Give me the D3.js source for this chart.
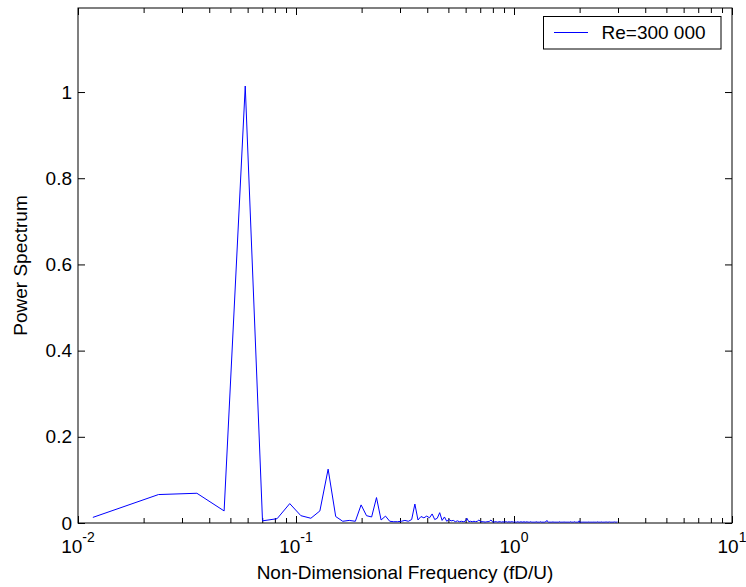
<!DOCTYPE html>
<html lang="en">

<head>
  <meta charset="utf-8">
  <title>powerSpectrum</title>
  <script src="https://d3js.org/d3.v7.min.js"></script>
  <style type="text/css">
    body {
      margin: 0;
      background: white;
    }

    svg text {
      font-family: "Liberation Sans", Arial, sans-serif;
      fill: black;
    }

    .axis path.domain {
      display: none;
    }

    .axis line {
      stroke: black;
      stroke-width: 1;
    }

    .tickLabel {
      font-size: 19px;
    }

    .axisTitle {
      font-size: 19px;
      text-anchor: middle;
    }
  </style>
</head>

<body>
  <script>

    //config settings
    const width = 746, height = 587;
    const plot = { left: 78, right: 732, top: 8, bottom: 523 };
    const majorTick = 7, minorTick = 5;

    //data: FFT bins, frequency of bin k is k * binWidth (fD/U)
    const binWidth = 0.0117;
    const seriesName = "Re=300 000";
    const power = [
      0.013, 0.066, 0.069, 0.028, 1.014, 0.005, 0.010, 0.045, 0.017, 0.011,
      0.028, 0.125, 0.015, 0.004, 0.006, 0.004, 0.042, 0.017, 0.014, 0.059,
      0.007, 0.016, 0.004, 0.003, 0.003, 0.004, 0.006, 0.004, 0.008, 0.044,
      0.007, 0.015, 0.012, 0.016, 0.012, 0.021, 0.008, 0.011, 0.024, 0.006,
      0.014, 0.004, 0.008, 0.005, 0.006, 0.003, 0.005, 0.003, 0.004, 0.003,
      0.004, 0.011, 0.003, 0.004, 0.003, 0.004, 0.003, 0.004, 0.007, 0.003,
      0.003, 0.003, 0.002, 0.003, 0.003, 0.004, 0.007, 0.003, 0.002, 0.003, 0.003, 0.002, 0.003, 0.003, 0.002,
      0.003, 0.002, 0.003, 0.003, 0.002, 0.003, 0.002, 0.003, 0.003, 0.002, 0.003, 0.002, 0.002, 0.003, 0.002,
      0.002, 0.003, 0.002, 0.002, 0.003, 0.002, 0.002, 0.003, 0.002, 0.002, 0.002, 0.003, 0.002, 0.002, 0.002,
      0.002, 0.002, 0.003, 0.002, 0.002, 0.002, 0.002, 0.003, 0.002, 0.002, 0.002, 0.002, 0.002, 0.003, 0.003,
      0.006, 0.003, 0.002, 0.002, 0.002, 0.002, 0.002, 0.002, 0.003, 0.002, 0.002, 0.002, 0.002, 0.002, 0.002,
      0.002, 0.002, 0.003, 0.002, 0.002, 0.002, 0.002, 0.002, 0.002, 0.003, 0.002, 0.002, 0.002, 0.002, 0.002,
      0.002, 0.002, 0.002, 0.002, 0.003, 0.002, 0.002, 0.002, 0.002, 0.002, 0.002, 0.003, 0.002, 0.002, 0.002,
      0.002, 0.002, 0.002, 0.002, 0.005, 0.002, 0.002, 0.002, 0.002, 0.002, 0.002, 0.002, 0.002, 0.003, 0.002,
      0.002, 0.002, 0.002, 0.002, 0.002, 0.002, 0.003, 0.002, 0.002, 0.002, 0.002, 0.002, 0.002, 0.002, 0.002,
      0.002, 0.003, 0.002, 0.002, 0.002, 0.002, 0.002, 0.002, 0.002, 0.002, 0.003, 0.002, 0.002, 0.002, 0.002,
      0.002, 0.002, 0.002, 0.002, 0.002, 0.003, 0.002, 0.002, 0.002, 0.002, 0.002, 0.002, 0.002, 0.002, 0.002,
      0.003, 0.002, 0.002, 0.002, 0.002, 0.002, 0.002, 0.002, 0.003, 0.002, 0.002, 0.002, 0.002, 0.002, 0.002,
      0.002, 0.002, 0.002, 0.002, 0.002, 0.002, 0.003, 0.002, 0.002, 0.002, 0.002, 0.002, 0.002, 0.002, 0.003
    ];

    //axes
    const xDomain = [0.01, 10];
    const yDomain = [0, 1.195];
    const xMajorExponents = [-2, -1, 0, 1];
    const yTickValues = [0, 0.2, 0.4, 0.6, 0.8, 1];
    const xTitle = "Non-Dimensional Frequency (fD/U)";
    const yTitle = "Power Spectrum";

    let svg, xScale, yScale;

    function createSvg() {
      svg = d3.select("body").append("svg")
        .attr("width", width).attr("height", height);
      svg.append("rect").attr("width", width).attr("height", height).attr("fill", "white");
    }

    function createScales() {
      xScale = d3.scaleLog().domain(xDomain).range([plot.left, plot.right]);
      yScale = d3.scaleLinear().domain(yDomain).range([plot.bottom, plot.top]);
    }

    function renderAxes() {
      let majors = xMajorExponents.map(e => Math.pow(10, e));
      let minors = xScale.ticks().filter(v => !majors.some(m => Math.abs(v / m - 1) < 1e-6));

      //bottom and top, ticks pointing inward
      [[d3.axisBottom, plot.bottom, -1], [d3.axisTop, plot.top, -1]].forEach(([axisFn, yPos]) => {
        svg.append("g").attr("class", "axis")
          .attr("transform", `translate(0,${yPos})`)
          .call(axisFn(xScale).tickValues(majors).tickSize(-majorTick).tickFormat(""));
        svg.append("g").attr("class", "axis")
          .attr("transform", `translate(0,${yPos})`)
          .call(axisFn(xScale).tickValues(minors).tickSize(-minorTick).tickFormat(""));
      });

      //left and right
      svg.append("g").attr("class", "axis")
        .attr("transform", `translate(${plot.left},0)`)
        .call(d3.axisLeft(yScale).tickValues(yTickValues).tickSize(-majorTick).tickFormat(""));
      svg.append("g").attr("class", "axis")
        .attr("transform", `translate(${plot.right},0)`)
        .call(d3.axisRight(yScale).tickValues(yTickValues).tickSize(-majorTick).tickFormat(""));

      //frame
      svg.append("rect")
        .attr("x", plot.left).attr("y", plot.top)
        .attr("width", plot.right - plot.left).attr("height", plot.bottom - plot.top)
        .attr("fill", "none").attr("stroke", "black").attr("stroke-width", 1);

      //y labels
      svg.selectAll("text.yLabel").data(yTickValues).enter().append("text")
        .attr("class", "yLabel tickLabel")
        .attr("x", plot.left - 6)
        .attr("y", d => yScale(d))
        .attr("dy", "0.35em")
        .attr("text-anchor", "end")
        .text(d => d3.format("")(d));

      //x labels 10^n
      let xl = svg.selectAll("text.xLabel").data(xMajorExponents).enter().append("text")
        .attr("class", "xLabel tickLabel")
        .attr("x", d => xScale(Math.pow(10, d)))
        .attr("y", 553)
        .attr("text-anchor", "middle");
      xl.append("tspan").text("10");
      xl.append("tspan").attr("dy", -11).style("font-size", "14px").text(d => String(d));

      //titles
      svg.append("text").attr("class", "axisTitle")
        .attr("x", (plot.left + plot.right) / 2).attr("y", 579)
        .text(xTitle);
      svg.append("text").attr("class", "axisTitle")
        .attr("transform", `translate(27,${(plot.top + plot.bottom) / 2}) rotate(-90)`)
        .text(yTitle);
    }

    function renderLine() {
      let line = d3.line()
        .x((d, i) => xScale((i + 1) * binWidth))
        .y(d => yScale(d));
      svg.append("path")
        .datum(power)
        .attr("d", line)
        .attr("fill", "none")
        .attr("stroke", "#0000ff")
        .attr("stroke-width", 1);
    }

    function renderLegend() {
      let g = svg.append("g").attr("id", "legend");
      g.append("rect")
        .attr("x", 543.5).attr("y", 16.5).attr("width", 177.5).attr("height", 32.5)
        .attr("fill", "white").attr("stroke", "black").attr("stroke-width", 1);
      g.append("line")
        .attr("x1", 554).attr("x2", 588).attr("y1", 32.5).attr("y2", 32.5)
        .attr("stroke", "#0000ff").attr("stroke-width", 1);
      g.append("text").attr("class", "tickLabel")
        .attr("x", 601.5).attr("y", 38.5)
        .text(seriesName);
    }

    function main() {
      createSvg();
      createScales();
      renderAxes();
      renderLine();
      renderLegend();
    }
    main();

  </script>
</body>

</html>
